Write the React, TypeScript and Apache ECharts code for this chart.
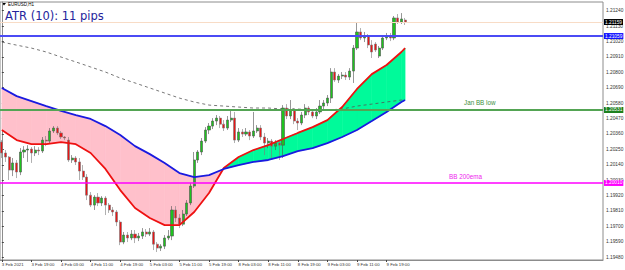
import React, { useEffect, useRef } from "react";
import * as echarts from "echarts";

// ---------- data ----------
const xLabels = [
  "3 Feb 2021", "3 Feb 19:00", "4 Feb 03:00", "4 Feb 11:00", "4 Feb 19:00",
  "5 Feb 03:00", "5 Feb 11:00", "5 Feb 19:00", "8 Feb 03:00", "8 Feb 11:00",
  "8 Feb 19:00", "9 Feb 03:00", "9 Feb 11:00", "9 Feb 19:00",
];
const barsPerLabel = 8;
const totalSlots = 163;

const yTicks = [
  1.2124, 1.2113, 1.2102, 1.2091, 1.208, 1.2069, 1.2058, 1.2047, 1.2036,
  1.2025, 1.2014, 1.2003, 1.1992, 1.1981, 1.197, 1.1959, 1.1948,
];
const yMin = 1.1946;
const yMax = 1.21302;

// [open, close, low, high]
const candles: number[][] = [
  [1.20302, 1.20224, 1.20188, 1.20316],
  [1.20224, 1.20195, 1.2016, 1.20245],
  [1.20195, 1.20102, 1.20031, 1.20202],
  [1.20102, 1.20153, 1.20059, 1.20188],
  [1.20153, 1.20088, 1.20045, 1.20174],
  [1.20088, 1.20231, 1.20066, 1.20259],
  [1.20231, 1.20245, 1.20188, 1.20273],
  [1.20245, 1.20252, 1.2016, 1.2028],
  [1.20252, 1.20224, 1.20153, 1.20266],
  [1.20224, 1.20245, 1.20202, 1.20273],
  [1.20245, 1.20238, 1.20209, 1.20266],
  [1.20238, 1.20316, 1.20224, 1.20338],
  [1.20316, 1.20309, 1.20273, 1.20345],
  [1.20309, 1.20381, 1.20295, 1.20402],
  [1.20381, 1.20402, 1.20367, 1.20416],
  [1.20402, 1.20367, 1.20352, 1.20416],
  [1.20367, 1.20338, 1.20324, 1.20381],
  [1.20338, 1.20331, 1.20316, 1.20345],
  [1.20316, 1.20174, 1.2016, 1.20338],
  [1.20174, 1.20188, 1.20153, 1.20209],
  [1.20188, 1.2016, 1.20138, 1.20202],
  [1.2016, 1.20095, 1.20031, 1.20188],
  [1.20095, 1.20052, 1.20031, 1.20138],
  [1.20052, 1.19923, 1.19888, 1.20073],
  [1.19923, 1.19852, 1.19838, 1.19945],
  [1.19852, 1.19909, 1.19817, 1.19923],
  [1.19909, 1.19867, 1.19845, 1.19938],
  [1.19867, 1.19902, 1.19845, 1.19916],
  [1.19902, 1.19852, 1.19781, 1.19916],
  [1.19852, 1.19817, 1.19796, 1.19867],
  [1.19817, 1.19803, 1.19774, 1.19838],
  [1.19803, 1.19731, 1.19702, 1.19817],
  [1.19731, 1.19588, 1.19566, 1.19745],
  [1.19588, 1.19638, 1.19573, 1.1966],
  [1.19638, 1.19617, 1.19588, 1.1966],
  [1.19617, 1.19645, 1.19602, 1.19674],
  [1.19645, 1.19617, 1.19581, 1.19674],
  [1.19617, 1.19631, 1.19595, 1.19653],
  [1.19631, 1.1966, 1.1961, 1.19688],
  [1.1966, 1.19645, 1.19624, 1.19681],
  [1.19645, 1.1966, 1.19631, 1.19688],
  [1.1966, 1.19573, 1.19531, 1.19674],
  [1.19573, 1.19545, 1.19517, 1.19588],
  [1.19545, 1.19559, 1.19524, 1.19573],
  [1.19559, 1.19617, 1.19538, 1.19638],
  [1.19617, 1.19631, 1.19602, 1.19674],
  [1.19631, 1.19817, 1.19602, 1.19845],
  [1.19817, 1.1976, 1.19731, 1.19845],
  [1.1976, 1.19716, 1.19688, 1.19788],
  [1.19716, 1.19788, 1.19702, 1.19817],
  [1.19788, 1.19867, 1.19774, 1.19888],
  [1.19867, 1.19988, 1.19852, 1.2001],
  [1.19988, 1.20174, 1.19974, 1.20231],
  [1.20174, 1.20231, 1.20153, 1.20245],
  [1.20231, 1.20309, 1.20209, 1.20331],
  [1.20309, 1.20388, 1.20295, 1.20409],
  [1.20388, 1.20416, 1.20359, 1.20438],
  [1.20416, 1.20452, 1.20395, 1.20473],
  [1.20452, 1.20473, 1.20423, 1.20495],
  [1.20473, 1.2043, 1.20402, 1.20488],
  [1.2043, 1.20402, 1.20381, 1.20459],
  [1.20402, 1.20459, 1.20388, 1.20488],
  [1.20459, 1.20473, 1.20445, 1.20531],
  [1.20473, 1.20316, 1.20295, 1.20517],
  [1.20316, 1.20374, 1.20302, 1.20402],
  [1.20374, 1.20359, 1.20338, 1.20395],
  [1.20359, 1.20374, 1.20345, 1.20402],
  [1.20374, 1.20345, 1.20316, 1.20388],
  [1.20345, 1.20381, 1.20331, 1.20517],
  [1.20381, 1.20402, 1.20367, 1.20423],
  [1.20402, 1.20338, 1.20316, 1.20423],
  [1.20338, 1.20295, 1.20209, 1.20367],
  [1.20295, 1.20309, 1.20259, 1.20331],
  [1.20309, 1.20273, 1.20188, 1.20324],
  [1.20273, 1.20295, 1.20245, 1.20316],
  [1.20295, 1.2028, 1.20174, 1.20309],
  [1.2028, 1.20545, 1.20188, 1.20566],
  [1.20545, 1.20488, 1.20466, 1.20573],
  [1.20488, 1.20531, 1.20466, 1.20602],
  [1.20531, 1.20452, 1.2043, 1.20545],
  [1.20452, 1.20438, 1.20388, 1.20473],
  [1.20438, 1.20495, 1.20423, 1.20517],
  [1.20495, 1.20545, 1.20473, 1.20573],
  [1.20545, 1.20517, 1.20495, 1.20559],
  [1.20517, 1.20488, 1.20473, 1.20531],
  [1.20488, 1.20517, 1.20466, 1.20545],
  [1.20517, 1.20559, 1.20502, 1.20602],
  [1.20559, 1.20581, 1.20531, 1.20602],
  [1.20581, 1.20616, 1.20559, 1.20638],
  [1.20616, 1.20802, 1.20581, 1.2083],
  [1.20802, 1.20745, 1.20731, 1.2083],
  [1.20745, 1.20773, 1.20724, 1.20788],
  [1.20773, 1.2078, 1.20752, 1.20802],
  [1.2078, 1.20766, 1.20745, 1.20802],
  [1.20766, 1.20809, 1.20745, 1.2083],
  [1.20809, 1.20973, 1.20724, 1.20995],
  [1.20973, 1.21088, 1.20959, 1.21159],
  [1.21088, 1.21045, 1.2103, 1.21116],
  [1.21045, 1.21059, 1.21016, 1.21088],
  [1.21059, 1.20995, 1.20973, 1.21073],
  [1.20995, 1.20945, 1.20902, 1.2103],
  [1.21002, 1.20959, 1.20945, 1.21016],
  [1.20916, 1.20973, 1.20902, 1.20988],
  [1.20973, 1.21045, 1.20959, 1.21066],
  [1.21045, 1.21059, 1.2103, 1.21081],
  [1.21059, 1.21045, 1.21023, 1.21081],
  [1.21045, 1.21188, 1.2103, 1.21202],
  [1.21188, 1.21159, 1.21145, 1.21216],
  [1.21159, 1.21181, 1.21145, 1.21223],
  [1.21173, 1.21159, 1.21138, 1.21188],
];

// moving averages, read at these bar indices
const maBars = [
  0, 4, 8, 12, 16, 20, 24, 28, 32, 36, 40, 44, 48, 52, 56, 60, 64, 68, 72,
  76, 80, 84, 88, 92, 96, 100, 104, 108, 109,
];
const emaFast = [
  1.20388, 1.20316, 1.20287, 1.20287, 1.20302, 1.20287, 1.20224, 1.2011,
  1.19959, 1.19831, 1.1976, 1.19709, 1.19709, 1.19803, 1.19938, 1.20117,
  1.20195, 1.20245, 1.2028, 1.20324, 1.20367, 1.20409, 1.20459, 1.20552,
  1.20681, 1.20787, 1.20852, 1.20945, 1.20973,
];
const emaSlow = [
  1.20688, 1.2063, 1.20595, 1.20559, 1.20524, 1.20495, 1.20467, 1.20416,
  1.20352, 1.20273, 1.20216, 1.20153, 1.20081, 1.20052, 1.20066, 1.2011,
  1.20138, 1.2016, 1.20174, 1.20202, 1.20238, 1.20259, 1.20295, 1.20338,
  1.20388, 1.20452, 1.20517, 1.20588, 1.20602,
];
const ema200 = [
  1.21016, 1.20994, 1.20973, 1.20945, 1.20909, 1.20874, 1.20838, 1.20802,
  1.20759, 1.20724, 1.20688, 1.20652, 1.20616, 1.20588, 1.20566, 1.20559,
  1.20552, 1.20545, 1.20545, 1.20538, 1.20538, 1.20531, 1.20531, 1.20538,
  1.20559, 1.20573, 1.20588, 1.20602, 1.20602,
];

const bidLevel = 1.21159;
const resistLevel = 1.21059;
const janBBLow = 1.20531;
const bb200ema = 1.2001;

const MINT = "#00fa9a";
const PINK = "#ffc0cb";

export default function App() {
  const ref = useRef<HTMLDivElement>(null);

  useEffect(() => {
    document.body.style.margin = "0";
    if (!ref.current) return;
    const chart = echarts.init(ref.current, null, { renderer: "svg" });

    const slots = Array.from({ length: totalSlots }, (_, i) => String(i));
    const showIdx = (i: number) =>
      i % barsPerLabel === 0 && i / barsPerLabel < xLabels.length;

    const boxLabel = (bg: string) => ({
      show: true,
      position: "end",
      distance: 1,
      formatter: (p: any) => Number(p.value).toFixed(5),
      backgroundColor: bg,
      color: "#ffffff",
      fontSize: 4.8,
      fontFamily: "Liberation Sans",
      padding: [1, 1, 0, 1],
    });

    const levelLine = (value: number, color: string, width: number, box: string) => ({
      type: "line",
      xAxisIndex: 1,
      z: 5,
      symbol: "none",
      silent: true,
      data: [],
      markLine: {
        silent: true,
        precision: 5,
        symbol: ["none", "none"],
        animation: false,
        data: [
          {
            yAxis: value,
            lineStyle: { color, width, type: "solid" },
            label: boxLabel(box),
          },
        ],
      },
    });

    const option: any = {
      animation: false,
      backgroundColor: "#ffffff",
      grid: {
        left: 0,
        right: 22,
        top: 2,
        bottom: 10,
        show: true,
        borderColor: "#8c8c8c",
        borderWidth: 1,
        outerBoundsMode: "none",
      },
      xAxis: [
        {
          type: "category",
          data: slots,
          boundaryGap: true,
          axisLine: { show: true, lineStyle: { color: "#8c8c8c" } },
          axisTick: {
            show: true,
            length: 2,
            alignWithLabel: true,
            interval: (i: number) => showIdx(i),
            lineStyle: { color: "#444" },
          },
          axisLabel: {
            interval: (i: number) => showIdx(i),
            formatter: (_v: string, i: number) =>
              showIdx(i) ? xLabels[i / barsPerLabel] : "",
            align: "left",
            fontSize: 4.3,
            fontFamily: "Liberation Sans",
            color: "#333",
            margin: 2.5,
          },
          splitLine: { show: false },
        },
        {
          type: "value",
          min: -0.5,
          max: totalSlots - 0.5,
          show: false,
        },
      ],
      yAxis: {
        type: "value",
        position: "right",
        min: yMin,
        max: yMax,
        scale: true,
        axisLine: { show: true, lineStyle: { color: "#8c8c8c" } },
        axisTick: {
          show: true,
          length: 2,
          customValues: yTicks,
          lineStyle: { color: "#444" },
        },
        axisLabel: {
          customValues: yTicks,
          formatter: (v: number) => v.toFixed(5),
          fontSize: 4.8,
          fontFamily: "Liberation Sans",
          color: "#333",
          margin: 3,
        },
        splitLine: { show: false },
      },
      series: [
        {
          type: "custom",
          xAxisIndex: 1,
          z: 1,
          silent: true,
          clip: true,
          data: maBars.map((b, k) => [b, emaFast[k], emaSlow[k]]),
          encode: { x: 0, y: [1, 2] },
          renderItem: (params: any, api: any) => {
            const k = params.dataIndex;
            if (k >= maBars.length - 1) return null;
            const x0 = maBars[k];
            const x1 = maBars[k + 1];
            const r0 = api.coord([x0, emaFast[k]]);
            const r1 = api.coord([x1, emaFast[k + 1]]);
            const b0 = api.coord([x0, emaSlow[k]]);
            const b1 = api.coord([x1, emaSlow[k + 1]]);
            const d0 = emaFast[k] - emaSlow[k];
            const d1 = emaFast[k + 1] - emaSlow[k + 1];
            const col = (d: number) => (d >= 0 ? MINT : PINK);
            const poly = (pts: number[][], fill: string) => ({
              type: "polygon",
              shape: { points: pts },
              style: { fill, stroke: fill, lineWidth: 0.6 },
            });
            if (d0 * d1 >= 0) {
              return poly([r0, r1, b1, b0], col(d0 + d1));
            }
            const t = d0 / (d0 - d1);
            const p = [r0[0] + t * (r1[0] - r0[0]), r0[1] + t * (r1[1] - r0[1])];
            return {
              type: "group",
              children: [poly([r0, p, b0], col(d0)), poly([p, r1, b1], col(d1))],
            };
          },
        },
        {
          type: "line",
          xAxisIndex: 1,
          z: 2,
          symbol: "none",
          silent: true,
          data: maBars.map((b, k) => [b, ema200[k]]),
          lineStyle: { color: "#555555", width: 0.8, type: [3, 3] },
        },
        levelLine(bidLevel, "#f8dcc6", 1, "#000000"),
        levelLine(resistLevel, "#4b4bf5", 2, "#1414ff"),
        levelLine(janBBLow, "#54a454", 2, "#1e801e"),
        levelLine(bb200ema, "#ff00ff", 1.5, "#ff00ff"),
        {
          type: "candlestick",
          xAxisIndex: 0,
          z: 3,
          barWidth: 2.6,
          data: candles,
          itemStyle: {
            color: "#1ec31e",
            color0: "#e81515",
            borderColor: "#505050",
            borderColor0: "#7a7a7a",
            borderWidth: 0.6,
          },
        },
        {
          type: "line",
          xAxisIndex: 1,
          z: 4,
          symbol: "none",
          silent: true,
          data: maBars.map((b, k) => [b, emaFast[k]]),
          lineStyle: { color: "#ee1111", width: 1.8 },
        },
        {
          type: "line",
          xAxisIndex: 1,
          z: 4,
          symbol: "none",
          silent: true,
          data: maBars.map((b, k) => [b, emaSlow[k]]),
          lineStyle: { color: "#1a1ae0", width: 1.8 },
        },
      ],
      graphic: [
        {
          type: "polygon",
          shape: { points: [[2, 3], [6, 3], [4, 5.5]] },
          style: { fill: "#000" },
        },
        {
          type: "text",
          left: 8,
          top: 1.5,
          style: { text: "EURUSD,H1", fill: "#000", font: '4.5px "Liberation Sans"' },
        },
        {
          type: "text",
          left: 5,
          top: 10,
          style: {
            text: "ATR (10): 11 pips",
            fill: "#24249c",
            font: '11.5px "DejaVu Sans"',
          },
        },
        {
          type: "text",
          left: 464,
          top: 99.5,
          style: { text: "Jan BB low", fill: "#3c8f3c", font: '6.3px "Liberation Sans"' },
        },
        {
          type: "text",
          left: 449,
          top: 173,
          style: { text: "BB 200ema", fill: "#ee22ee", font: '6.3px "Liberation Sans"' },
        },
      ],
    };

    chart.setOption(option);
    return () => chart.dispose();
  }, []);

  return (
    <div
      ref={ref}
      style={{ position: "absolute", left: 0, top: 0, width: 625, height: 270 }}
    />
  );
}
